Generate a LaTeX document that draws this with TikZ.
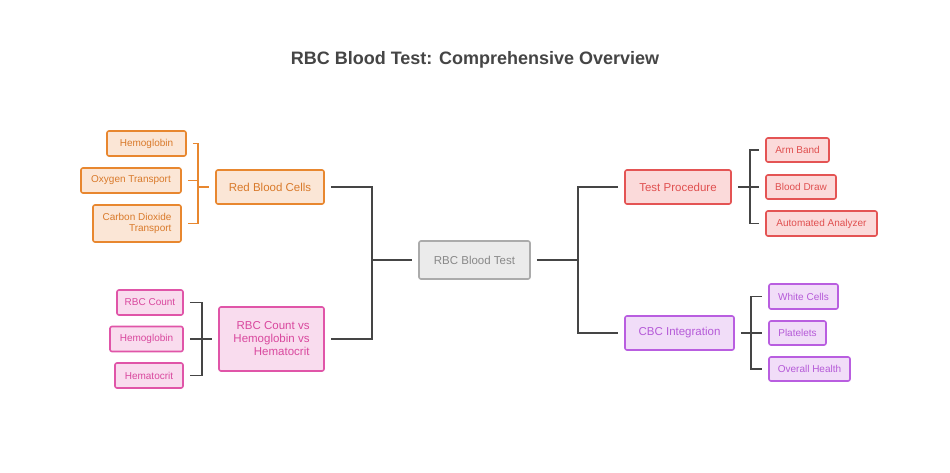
\documentclass[tikz,border=0pt]{standalone}
\usepackage{fontspec}
\setmainfont{Liberation Sans}
\begin{document}
\begin{tikzpicture}[x=1pt,y=-1pt,
 box/.style={draw,rounded corners=2pt,line width=1.6pt,align=right,inner sep=2pt,font=\fontsize{#1}{#1}\selectfont},
 box/.default=10,
 org/.style={box=#1,draw=orgB,fill=orgF,text=orgT},
 pnk/.style={box=#1,draw=pnkB,fill=pnkF,text=pnkT},
 red/.style={box=#1,draw=redB,fill=redF,text=redT},
 pur/.style={box=#1,draw=purB,fill=purF,text=purT},
 gry/.style={box=#1,draw=gryB,fill=gryF,text=gryT},
 org/.default=10,pnk/.default=10,red/.default=10,pur/.default=10,gry/.default=10,
 ln/.style={draw=lnC,line width=1.8pt},
 oln/.style={draw=orgB,line width=1.8pt}]
\definecolor{orgB}{HTML}{E8872F}\definecolor{orgF}{HTML}{FBE6D6}\definecolor{orgT}{HTML}{D97A2B}
\definecolor{pnkB}{HTML}{E055A8}\definecolor{pnkF}{HTML}{F9DCEE}\definecolor{pnkT}{HTML}{D9489E}
\definecolor{redB}{HTML}{E45454}\definecolor{redF}{HTML}{FBDADA}\definecolor{redT}{HTML}{E05050}
\definecolor{purB}{HTML}{B95EE0}\definecolor{purF}{HTML}{F1DDF8}\definecolor{purT}{HTML}{B55AD8}
\definecolor{gryB}{HTML}{ABABAB}\definecolor{gryF}{HTML}{EBEBEB}\definecolor{gryT}{HTML}{888888}
\definecolor{lnC}{HTML}{454545}
\useasboundingbox (0,0) rectangle (950,473);
\fill[white] (0,0) rectangle (950,473);
\node[font=\bfseries\fontsize{18}{18}\selectfont,text=lnC] (title) at (475,60) {RBC Blood Test: Comprehensive Overview};
% center
\node[gry=11.5,minimum width=111,minimum height=38] (c) at (474.5,260) {RBC Blood Test};
% left
\node[org=11.5,minimum width=108,minimum height=34] (rbc) at (270,187) {Red Blood Cells};
\node[org,minimum width=79,minimum height=25] (o1) at (146.5,143.5) {Hemoglobin};
\node[org,minimum width=100,minimum height=25] (o2) at (131,180.5) {Oxygen Transport};
\node[org,minimum width=88,minimum height=37] (o3) at (137,223.5) {Carbon Dioxide\\[1pt]Transport};
\node[pnk=11.5,minimum width=105,minimum height=64] (cmp) at (271.5,339) {RBC Count vs\\[1.5pt]Hemoglobin vs\\[1.5pt]Hematocrit};
\node[pnk,minimum width=66,minimum height=25] (p1) at (150,302.5) {RBC Count};
\node[pnk,minimum width=73,minimum height=25] (p2) at (146.5,339) {Hemoglobin};
\node[pnk,minimum width=68,minimum height=25] (p3) at (149,375.5) {Hematocrit};
% right
\node[red=11.5,minimum width=106,minimum height=34] (tp) at (678,187) {Test Procedure};
\node[red,minimum width=63,minimum height=24] (r1) at (797.5,150) {Arm Band};
\node[red,minimum width=70,minimum height=24] (r2) at (801,187) {Blood Draw};
\node[red,minimum width=111,minimum height=25] (r3) at (821.5,223.5) {Automated Analyzer};
\node[pur=11.5,minimum width=109,minimum height=34] (cbc) at (679.5,333) {CBC Integration};
\node[pur,minimum width=69,minimum height=25] (u1) at (803.5,296.5) {White Cells};
\node[pur,minimum width=57,minimum height=24] (u2) at (797.5,333) {Platelets};
\node[pur,minimum width=81,minimum height=24] (u3) at (809.5,369) {Overall Health};
% brackets
\coordinate (jc) at (372,260); \coordinate (jr) at (578,260);
\coordinate (bo) at (198,187); \coordinate (bp) at (202,339);
\coordinate (bt) at (750,187); \coordinate (bu) at (751,333);
\draw[ln] ([xshift=6]rbc.east) -| (jc) |- ([xshift=6]cmp.east);
\draw[ln] (jc) -- ([xshift=-6]c.west);
\draw[ln] ([xshift=6]c.east) -- (jr);
\draw[ln] ([xshift=-6]tp.west) -| (jr) |- ([xshift=-6]cbc.west);
\draw[oln] ([xshift=6]o1.east) -| (bo) |- ([xshift=6]o3.east);
\draw[oln] ([xshift=6]o2.east) -| (bo);
\draw[oln] (bo) -- ([xshift=-6]rbc.west);
\draw[ln] ([xshift=6]p1.east) -| (bp) |- ([xshift=6]p3.east);
\draw[ln] ([xshift=6]p2.east) -- ([xshift=-6]cmp.west);
\draw[ln] ([xshift=-6]r1.west) -| (bt) |- ([xshift=-6]r3.west);
\draw[ln] ([xshift=6]tp.east) -- ([xshift=-6]r2.west);
\draw[ln] ([xshift=-6]u1.west) -| (bu) |- ([xshift=-6]u3.west);
\draw[ln] ([xshift=6]cbc.east) -- ([xshift=-6]u2.west);
\end{tikzpicture}
\end{document}
